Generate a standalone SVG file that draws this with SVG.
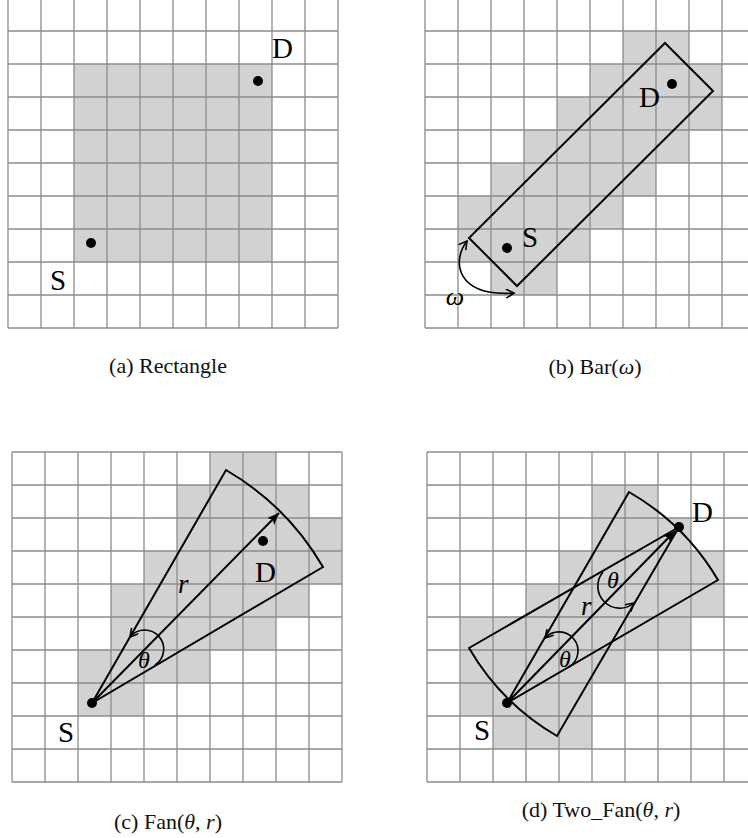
<svg xmlns="http://www.w3.org/2000/svg" xmlns:xlink="http://www.w3.org/1999/xlink" width="748" height="838" viewBox="0 0 748 838">
<style>
.grid{fill:none;stroke:#8c8c8c;stroke-width:1.3}
.shade{fill:#d2d2d2}
.shape{fill:none;stroke:#000;stroke-width:2;stroke-linejoin:miter}
.arc{fill:none;stroke:#000;stroke-width:1.6}
.dot{fill:#000}
.lbl{font-family:"Liberation Serif","Times New Roman",serif;font-size:29px;fill:#000}
.it{font-family:"Liberation Serif","Times New Roman",serif;font-style:italic;fill:#000}
.cap{font-family:"Liberation Serif","Times New Roman",serif;font-size:22px;fill:#111;text-anchor:middle}
</style>
<defs>
<path id="grid" class="grid" d="M0 0V330M33 0V330M66 0V330M99 0V330M132 0V330M165 0V330M198 0V330M231 0V330M264 0V330M297 0V330M330 0V330M0 0H330M0 33H330M0 66H330M0 99H330M0 132H330M0 165H330M0 198H330M0 231H330M0 264H330M0 297H330M0 330H330"/>
<marker id="solid" markerUnits="userSpaceOnUse" markerWidth="14" markerHeight="12" refX="12" refY="5" orient="auto">
<path d="M0,0 L12,5 L0,10 L3,5 z" fill="#000"/>
</marker>
<marker id="open" markerUnits="userSpaceOnUse" markerWidth="12" markerHeight="12" refX="9" refY="5" orient="auto-start-reverse">
<path d="M1,0.5 L9,5 L1,9.5" fill="none" stroke="#000" stroke-width="1.6"/>
</marker>
</defs>
<rect width="748" height="838" fill="#fff"/>

<g id="panel-a">
<g transform="translate(8,-2)">
<rect class="shade" x="66" y="66" width="198" height="198"/>
<use xlink:href="#grid"/>
</g>
<circle class="dot" cx="258" cy="81" r="5"/>
<circle class="dot" cx="91" cy="243" r="5"/>
<text class="lbl" x="272" y="58">D</text>
<text class="lbl" x="50" y="290">S</text>
<text class="cap" x="168" y="373">(a) Rectangle</text>
</g>

<g id="panel-b">
<g transform="translate(425,-2)">
<rect class="shade" x="198" y="33" width="66" height="33"/>
<rect class="shade" x="165" y="66" width="132" height="33"/>
<rect class="shade" x="132" y="99" width="165" height="33"/>
<rect class="shade" x="99" y="132" width="165" height="33"/>
<rect class="shade" x="66" y="165" width="165" height="33"/>
<rect class="shade" x="33" y="198" width="165" height="33"/>
<rect class="shade" x="33" y="231" width="132" height="33"/>
<rect class="shade" x="66" y="264" width="66" height="33"/>
<use xlink:href="#grid"/>
</g>
<polygon class="shape" points="665,43 713,91 517,286 469,238"/>
<circle class="dot" cx="672" cy="84" r="5"/>
<circle class="dot" cx="507" cy="248" r="5"/>
<text class="lbl" x="639" y="107" font-size="27">D</text>
<text class="lbl" x="522" y="247" font-size="27">S</text>
<path class="arc" d="M467,241 C451,262 457,297 514,293" marker-start="url(#open)" marker-end="url(#open)"/>
<text class="it" x="455" y="305" font-size="26" text-anchor="middle">ω</text>
<text class="cap" x="595" y="374">(b) Bar(<tspan font-style="italic">ω</tspan>)</text>
</g>

<g id="panel-c">
<g transform="translate(12,452)">
<rect class="shade" x="198" y="0" width="66" height="33"/>
<rect class="shade" x="165" y="33" width="132" height="33"/>
<rect class="shade" x="165" y="66" width="165" height="33"/>
<rect class="shade" x="132" y="99" width="198" height="33"/>
<rect class="shade" x="99" y="132" width="198" height="33"/>
<rect class="shade" x="99" y="165" width="165" height="33"/>
<rect class="shade" x="66" y="198" width="132" height="33"/>
<rect class="shade" x="66" y="231" width="66" height="33"/>
<use xlink:href="#grid"/>
</g>
<path class="shape" d="M92,703 L226,470 A268.5,268.5 0 0 1 323,567 Z"/>
<line class="shape" x1="92" y1="703" x2="279" y2="513" marker-end="url(#solid)"/>
<path class="arc" d="M155,665 A19,19 0 1 0 130,637" marker-end="url(#open)"/>
<circle class="dot" cx="263" cy="541" r="5"/>
<circle class="dot" cx="92" cy="703" r="5"/>
<text class="lbl" x="255" y="582">D</text>
<text class="lbl" x="58" y="742">S</text>
<text class="it" x="178" y="593" font-size="27">r</text>
<text class="it" x="144" y="668" font-size="24" text-anchor="middle">θ</text>
<text class="cap" x="168" y="829">(c) Fan(<tspan font-style="italic">θ</tspan>, <tspan font-style="italic">r</tspan>)</text>
</g>

<g id="panel-d">
<g transform="translate(427,452)">
<rect class="shade" x="165" y="33" width="66" height="33"/>
<rect class="shade" x="165" y="66" width="99" height="33"/>
<rect class="shade" x="132" y="99" width="165" height="33"/>
<rect class="shade" x="99" y="132" width="198" height="33"/>
<rect class="shade" x="33" y="165" width="231" height="33"/>
<rect class="shade" x="33" y="198" width="165" height="33"/>
<rect class="shade" x="33" y="231" width="132" height="33"/>
<rect class="shade" x="66" y="264" width="99" height="33"/>
<use xlink:href="#grid"/>
</g>
<path class="shape" d="M507,703 L629,492 A245,245 0 0 1 718,580 Z"/>
<path class="shape" d="M679,527 L469,648 A243,243 0 0 0 557,736 Z"/>
<line class="shape" x1="507" y1="703" x2="675" y2="531" marker-end="url(#solid)"/>
<path class="arc" d="M569,667 A19,19 0 1 0 545,638" marker-end="url(#open)"/>
<path class="arc" d="M603,572 A22,22 0 0 0 634,603" marker-end="url(#open)"/>
<circle class="dot" cx="507" cy="703" r="5"/>
<circle class="dot" cx="679" cy="527" r="5"/>
<text class="lbl" x="692" y="522">D</text>
<text class="lbl" x="474" y="740">S</text>
<text class="it" x="581" y="615" font-size="27">r</text>
<text class="it" x="565" y="667" font-size="24" text-anchor="middle">θ</text>
<text class="it" x="613" y="588" font-size="24" text-anchor="middle">θ</text>
<text class="cap" x="601" y="817">(d) Two_Fan(<tspan font-style="italic">θ</tspan>, <tspan font-style="italic">r</tspan>)</text>
</g>
</svg>
